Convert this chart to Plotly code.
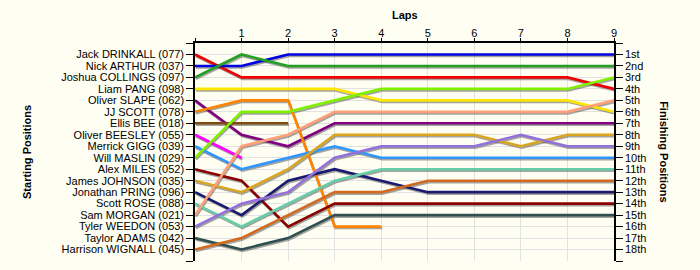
import numpy as np
import plotly.graph_objects as go

laps = list(range(10))
lap_labels = [""] + [str(i) for i in range(1, 10)]

drivers = ["Jack DRINKALL (077)", "Nick ARTHUR (037)", "Joshua COLLINGS (097)", "Liam PANG (098)",
           "Oliver SLAPE (062)", "JJ SCOTT (078)", "Ellis BEE (018)", "Oliver BEESLEY (055)",
           "Merrick GIGG (039)", "Will MASLIN (029)", "Alex MILES (052)", "James JOHNSON (035)",
           "Jonathan PRING (096)", "Scott ROSE (088)", "Sam MORGAN (021)", "Tyler WEEDON (053)",
           "Taylor ADAMS (042)", "Harrison WIGNALL (045)"]

finish_labels = ["1st", "2nd", "3rd", "4th", "5th", "6th", "7th", "8th", "9th", "10th",
                 "11th", "12th", "13th", "14th", "15th", "16th", "17th", "18th"]

N = None
drinkall = [1, 3, 3, 3, 3, 3, 3, 3, 3, 4]
arthur   = [2, 2, 1, 1, 1, 1, 1, 1, 1, 1]
collings = [3, 1, 2, 2, 2, 2, 2, 2, 2, 2]
pang     = [4, 4, 4, 4, 5, 5, 5, 5, 5, 6]
slape    = [5, 8, 9, 7, 7, 7, 7, 7, 7, 7]
scott    = [6, 5, 5, 16, 16, N, N, N, N, N]
bee      = [7, 7, 7, N, N, N, N, N, N, N]
beesley  = [8, 10, N, N, N, N, N, N, N, N]
gigg     = [9, 11, 10, 9, 10, 10, 10, 10, 10, 10]
maslin   = [10, 6, 6, 5, 4, 4, 4, 4, 4, 3]
miles    = [11, 12, 16, 14, 14, 14, 14, 14, 14, 14]
johnson  = [12, 13, 11, 8, 8, 8, 8, 9, 8, 8]
pring    = [13, 15, 12, 11, 12, 13, 13, 13, 13, 13]
rose     = [14, 16, 14, 12, 11, 11, 11, 11, 11, 11]
morgan   = [15, 9, 8, 6, 6, 6, 6, 6, 6, 5]
weedon   = [16, 14, 13, 10, 9, 9, 9, 8, 9, 9]
adams    = [17, 18, 17, 15, 15, 15, 15, 15, 15, 15]
wignall  = [18, 17, 15, 13, 13, 12, 12, 12, 12, 12]

series = [drinkall, arthur, collings, pang, slape, scott, bee, beesley, gigg, maslin,
          miles, johnson, pring, rose, morgan, weedon, adams, wignall]

colors = ["#EE0000", "#0000E0", "#22A022", "#FFE600", "#800080", "#FF8400", "#804A10", "#FF00FF",
          "#2E96FF", "#80F000", "#8B0000", "#DAA520", "#1A1A70", "#66CDAA", "#FFA07A", "#9370DB",
          "#2F4F4F", "#D2691E"]

FONT = "Liberation Sans, Arial, sans-serif"

fig = go.Figure()

# shadows
for s in series:
    y = np.array([np.nan if v is None else v for v in s], dtype=float)
    fig.add_trace(go.Scatter(x=np.array(laps) + 0.02, y=y + 0.13, mode="lines",
                             line=dict(color="rgba(90,90,90,0.55)", width=2.6),
                             hoverinfo="skip", showlegend=False))
for name, s, c in zip(drivers, series, colors):
    y = np.array([np.nan if v is None else v for v in s], dtype=float)
    fig.add_trace(go.Scatter(x=laps, y=y, mode="lines", name=name,
                             line=dict(color=c, width=2.6), showlegend=False))

# dummy trace for right axis
fig.add_trace(go.Scatter(x=[0], y=[1], yaxis="y2", mode="markers",
                         marker=dict(opacity=0), hoverinfo="skip", showlegend=False))

ytick = list(range(20))
fig.update_layout(
    width=700, height=270,
    margin=dict(l=195, r=86, t=43, b=9),
    paper_bgcolor="#FFFEF3", plot_bgcolor="#FFFEF3",
    font=dict(family=FONT, size=11, color="#000000"),
    xaxis=dict(side="top", range=[0, 9], tickvals=laps, ticktext=lap_labels,
               showgrid=True, gridcolor="#E2E2E2", gridwidth=1, zeroline=False,
               showline=True, linecolor="#000000", linewidth=1.5,
               ticks="outside", ticklen=3, tickcolor="#000000", ticklabelstandoff=-3,
               tickfont=dict(size=11, family=FONT)),
    yaxis=dict(range=[19, 0], tickvals=ytick, ticktext=[""] + drivers + [""],
               showgrid=True, gridcolor="#E2E2E2", gridwidth=1, zeroline=False,
               showline=True, linecolor="#000000", linewidth=1.5,
               ticks="outside", ticklen=7, tickcolor="#000000",
               tickfont=dict(size=11, family=FONT)),
    yaxis2=dict(range=[19, 0], overlaying="y", side="right", tickvals=ytick,
                ticktext=[""] + finish_labels + [""], showgrid=False, zeroline=False,
                showline=True, linecolor="#000000", linewidth=1.5,
                ticks="outside", ticklen=7, tickcolor="#000000",
                tickfont=dict(size=11, family=FONT)),
    annotations=[
        dict(text="<b>Laps</b>", x=0.5, y=1.13, xref="paper", yref="paper",
             xanchor="center", yanchor="middle",
             showarrow=False, font=dict(size=11, family=FONT)),
        dict(text="<b>Starting Positions</b>", x=-0.401, y=0.5, xref="paper", yref="paper",
             xanchor="center", yanchor="middle",
             textangle=-90, showarrow=False, font=dict(size=11, family=FONT)),
        dict(text="<b>Finishing Positions</b>", x=1.119, y=0.5, xref="paper", yref="paper",
             xanchor="center", yanchor="middle",
             textangle=90, showarrow=False, font=dict(size=11, family=FONT)),
    ],
)

fig.write_html("out.html")
